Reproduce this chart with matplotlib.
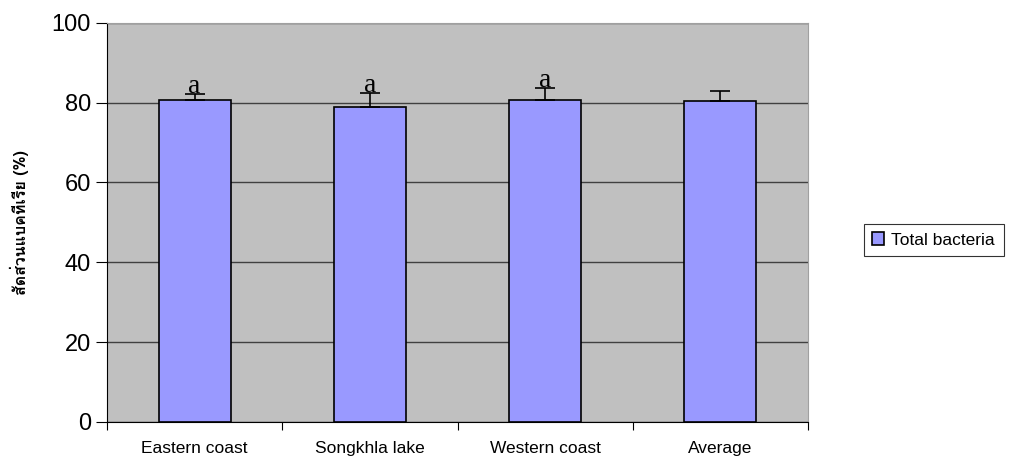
import matplotlib
matplotlib.use("Agg")
import matplotlib.pyplot as plt
from matplotlib import font_manager
from matplotlib.ft2font import FT2Font
import numpy as np

categories = ["Eastern coast", "Songkhla lake", "Western coast", "Average"]
values = [80.7, 79.0, 80.7, 80.3]
errors = [1.6, 3.4, 3.0, 2.7]
letters = ["a", "a", "a", ""]
series_name = "Total bacteria"
ylabel = "สัดส่วนแบคทีเรีย (%)"


def thai_family():
    # look for any installed font that carries Thai glyphs
    for f in font_manager.fontManager.ttflist:
        try:
            if 0x0E2A in FT2Font(f.fname).get_charmap():
                return f.name
        except Exception:
            pass
    return None


th = thai_family()
label_family = [th, "DejaVu Sans"] if th else ["DejaVu Sans"]

plt.rcParams["font.family"] = ["Liberation Sans", "DejaVu Sans"]

fig = plt.figure(figsize=(10.1, 4.58), dpi=100)
ax = fig.add_axes([0.106, 0.079, 0.694, 0.871])
ax.set_facecolor("#c0c0c0")

x = np.arange(len(categories))
ax.bar(x, values, width=0.41, color="#9999ff", edgecolor="black",
       linewidth=1.2, label=series_name, zorder=3)
ax.errorbar(x, values, yerr=[np.zeros(len(errors)), errors], fmt="none",
            ecolor="black", elinewidth=1.2, capsize=7, capthick=1.2, zorder=4)

for xi, v, e, t in zip(x, values, errors, letters):
    if t:
        ax.text(xi, v + e - 1.3, t, ha="center", va="bottom", fontsize=20,
                family=["Liberation Serif", "DejaVu Serif"], zorder=5)

ax.set_xlim(-0.5, len(categories) - 0.5)
ax.set_ylim(0, 100)
ax.set_yticks(np.arange(0, 101, 20))
ax.tick_params(axis="y", labelsize=17, length=8, direction="out")
ax.set_xticks(np.arange(-0.5, len(categories), 1.0))
ax.set_xticklabels([])
ax.set_xticks(x, minor=True)
ax.set_xticklabels(categories, minor=True, fontsize=12.5)
ax.tick_params(axis="x", which="major", length=6, direction="out")
ax.tick_params(axis="x", which="minor", length=0, pad=14)

ax.yaxis.grid(True, color="#404040", linewidth=1.0, zorder=1)
ax.set_axisbelow(True)
for s in ["top", "right"]:
    ax.spines[s].set_color("#a0a0a0")
ax.spines["left"].set_color("black")
ax.spines["bottom"].set_color("black")

ax.set_ylabel(ylabel, fontsize=11.5, fontweight="bold", family=label_family,
              labelpad=16)

leg = fig.legend(loc="center left", bbox_to_anchor=(0.855, 0.476),
                 fontsize=12.5, frameon=True, fancybox=False, handlelength=0.7,
                 handleheight=0.7, handletextpad=0.4, borderpad=0.5,
                 borderaxespad=0)
leg.get_frame().set_edgecolor("black")
leg.get_frame().set_linewidth(0.8)

fig.savefig("out.png", dpi=100)
